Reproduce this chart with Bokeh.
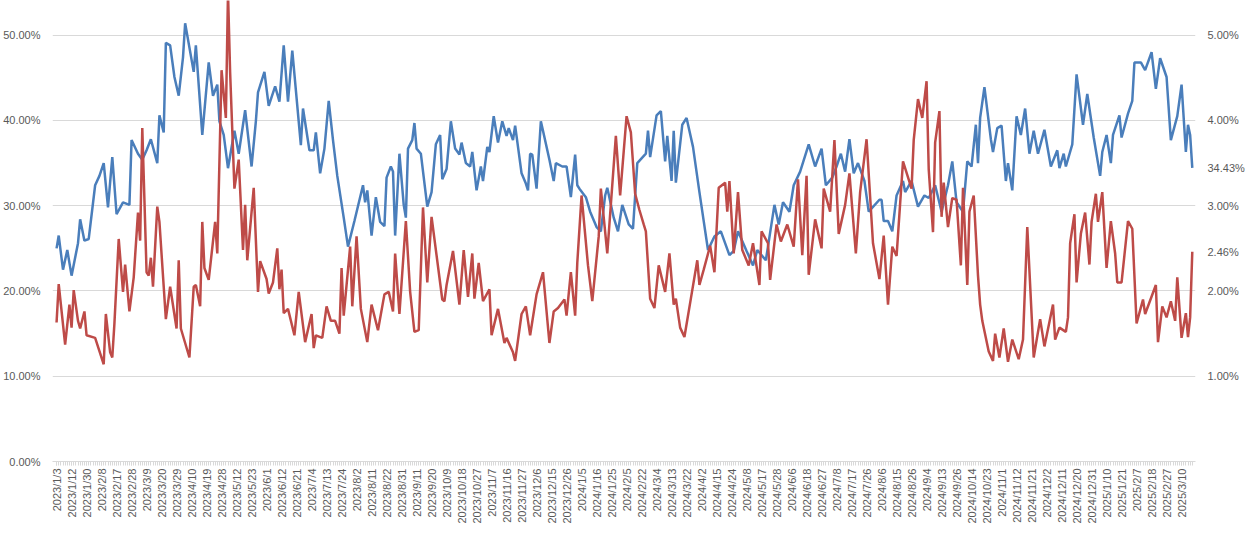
import datetime as dt
from bokeh.plotting import figure
from bokeh.models import Range1d, LinearAxis, FixedTicker, NumeralTickFormatter, ColumnDataSource
from bokeh.embed import file_html
from bokeh.resources import INLINE

# Shanghai/Shenzhen weekday closures in the period
holidays = ["2023-01-02", "2023-01-23", "2023-01-24", "2023-01-25", "2023-01-26", "2023-01-27",
            "2023-04-05", "2023-05-01", "2023-05-02", "2023-05-03", "2023-06-22", "2023-06-23",
            "2023-09-29", "2023-10-02", "2023-10-03", "2023-10-04", "2023-10-05", "2023-10-06",
            "2024-01-01", "2024-02-09", "2024-02-12", "2024-02-13", "2024-02-14", "2024-02-15",
            "2024-02-16", "2024-04-04", "2024-04-05", "2024-05-01", "2024-05-02", "2024-05-03",
            "2024-06-10", "2024-09-16", "2024-09-17", "2024-10-01", "2024-10-02", "2024-10-03",
            "2024-10-04", "2024-10-07", "2025-01-01", "2025-01-28", "2025-01-29", "2025-01-30",
            "2025-01-31", "2025-02-03", "2025-02-04"]
first_day = "2023-01-03"
n_days = 531

# sample day index (trading day number) and values
blue_day = [0, 1, 3, 5, 7, 10, 11, 13, 15, 18, 20, 22, 24, 26, 28, 31, 34, 35, 38, 40, 42, 44, 47, 48, 50, 51,
            53, 55, 57, 59, 60, 64, 65, 68, 71, 73, 75, 76, 78, 80, 83, 85, 88, 91, 93, 94, 97, 99, 102, 104,
            106, 108, 110, 114, 115, 118, 120, 121, 123, 125, 127, 129, 131, 134,
            136, 139, 143, 144, 145, 147, 149, 151, 153, 154, 156, 157, 158, 160, 162, 163, 164, 166, 167, 168,
            170, 173, 175, 177, 179, 180, 182, 184, 186, 188, 189, 191, 193, 194, 196, 198, 199, 201, 202, 204,
            206, 208, 210, 211, 213, 214, 217, 219, 220, 221, 222, 224, 226, 227, 230, 232, 233, 236, 238, 240,
            242, 243, 244, 247, 249, 252, 254, 256, 257, 260, 262, 264, 267, 269,
            271, 275, 276, 277, 280, 282, 284, 285, 287, 288, 289, 292, 294, 297, 300, 302, 304, 307, 310, 314,
            316, 318, 322, 325, 327, 331, 335, 337, 339, 342, 344, 347, 351, 354, 357, 359, 362, 364, 366, 368,
            370, 372, 374, 377, 379, 384, 385, 386, 388, 390, 392, 395, 396, 399, 402,
            405, 407, 410, 413, 416, 418, 420, 423, 425, 427, 429, 430, 431, 433, 436, 437, 439, 441, 443, 444,
            446, 448, 450, 452, 454, 456, 458, 461, 464, 467, 468, 470, 471, 474, 476, 479, 481, 484, 487, 488,
            490, 492, 493, 496, 497, 500, 502, 503, 506, 508, 511, 513, 515, 518, 520, 523, 525, 527, 528, 529, 530]
blue_pct = [25.0, 26.5, 22.5, 24.8, 21.8, 25.6, 28.4, 25.9, 26.1, 32.4, 33.5, 35.0, 29.8, 35.7, 29.0, 30.4, 30.1,
            37.7, 36.1, 35.4, 36.5, 37.8, 35.0, 40.6, 38.6, 49.1, 48.8, 45.1, 42.9, 47.4, 51.4, 45.7, 48.8, 38.3,
            46.8, 42.9, 44.2, 39.9, 38.3, 34.4, 38.8, 36.1, 41.2, 34.6, 39.9, 43.3, 45.7, 41.7, 44.0, 42.2, 48.8,
            42.2, 48.2, 37.1, 41.4, 36.5, 36.5, 38.6, 33.8, 36.7, 42.3, 37.7, 33.5, 28.6,
            25.2, 28.2, 32.4, 30.4, 31.8, 26.5, 31.0, 28.1, 27.6, 33.3, 34.6, 34.0, 26.5, 36.1, 30.1, 28.6, 36.7,
            37.7, 39.7, 36.7, 36.1, 29.9, 31.6, 37.2, 38.3, 33.1, 34.3, 39.9, 36.7, 36.0, 37.4, 35.0, 34.6, 36.3,
            31.8, 34.6, 32.9, 36.9, 36.3, 40.5, 37.4, 39.9, 38.2, 39.1, 37.7, 39.4, 33.8, 32.6, 31.8, 36.1, 36.0,
            32.0, 39.9, 38.8, 35.4, 32.9, 35.0, 34.6, 34.6, 31.0, 36.0, 32.4, 32.0, 31.0, 29.3, 27.5, 27.0, 31.2,
            32.1, 28.6, 27.0, 30.1, 27.8, 27.3,
            35.0, 36.1, 38.8, 35.7, 40.6, 41.1, 35.2, 38.2, 32.9, 38.8, 32.7, 39.5, 40.3, 36.9, 31.6, 28.2, 24.8,
            26.4, 27.0, 24.2, 24.7, 27.0, 24.7, 23.0, 24.8, 23.6, 30.1, 27.8, 30.4, 29.3, 32.4, 34.0, 37.2, 34.6,
            36.7, 32.4, 33.3, 34.6, 36.1, 34.0, 37.8, 33.8, 35.0, 32.9, 29.3, 30.7, 30.7, 28.2, 28.2, 27.0, 31.2,
            32.9, 31.6, 32.9, 29.9,
            31.2, 30.9, 32.4, 29.3, 32.4, 35.2, 30.4, 29.3, 35.2, 34.6, 39.5, 35.0, 40.3, 43.9, 37.8, 36.3, 39.1,
            39.4, 32.9, 35.0, 31.8, 40.5, 38.3, 41.4, 36.1, 38.8, 36.1, 38.9, 34.6, 36.5, 34.4, 36.1, 34.6, 37.2,
            45.4, 39.5, 43.1, 38.0, 33.5, 36.3, 38.3, 35.0, 38.3, 40.6, 38.0, 40.8, 42.3, 46.8, 46.8, 45.9, 48.0,
            43.7, 47.3, 45.1, 37.7, 40.5, 44.2, 36.3, 39.5, 38.3, 34.43]

red_day = [0, 1, 4, 6, 7, 8, 10, 11, 13, 14, 18, 22, 23, 25, 26, 27, 29, 31, 32, 34, 36, 38, 39, 40, 42, 43, 44,
           45, 47, 48, 51, 53, 56, 57, 58, 62, 64, 65, 67, 68, 69, 71, 74, 75, 77, 79, 80, 81, 83, 85, 87, 88, 89,
           92, 94, 95, 98, 99, 101, 103, 104, 105, 106, 108, 111, 113, 116, 119, 120, 121, 124, 126, 128, 130,
           132, 133,
           134, 137, 138, 140, 142, 145, 147, 150, 153, 155, 157, 158, 160, 163, 165, 167, 169, 171, 173, 175,
           180, 181, 182, 185, 188, 190, 192, 194, 195, 197, 199, 202, 203, 206, 209, 210, 213, 214, 217, 219,
           221, 224, 227, 230, 232, 234, 237, 238, 240, 242, 243, 245, 248, 250, 253, 254, 257, 261, 263, 266, 268,
           270, 272, 274, 275, 277, 279, 281, 284, 286, 288, 289, 291, 293, 296, 299, 300, 302, 305, 307, 309,
           312, 313, 314, 316, 318, 320, 323, 325, 328, 329, 332, 333, 336, 338, 341, 344, 346, 348, 350, 351,
           354, 357, 358, 361, 363, 365, 368, 370, 373, 375, 378, 381, 384, 386, 388, 390, 392, 395, 399,
           400, 402, 404, 406, 407, 409, 410, 412, 413, 414, 416, 418, 420, 422, 423, 425, 426, 428, 430, 431,
           432, 435, 437, 438, 440, 442, 444, 446, 449, 451, 453, 456, 459, 461, 465, 466, 468, 471, 472, 473,
           475, 476, 478, 480, 482, 483, 485, 486, 488, 490, 492, 494, 495, 497, 500, 502, 504, 507, 508, 513,
           514, 516, 518, 520, 522, 523, 525, 527, 528, 529, 530]
red_pct = [1.63, 2.08, 1.37, 1.84, 1.57, 2.01, 1.65, 1.56, 1.76, 1.48, 1.45, 1.14, 1.73, 1.28, 1.22, 1.62, 2.61,
           1.99, 2.31, 1.76, 2.16, 2.92, 2.59, 3.91, 2.22, 2.18, 2.39, 2.05, 2.99, 2.81, 1.67, 2.05, 1.56, 2.36,
           1.56, 1.22, 2.05, 2.07, 1.82, 2.81, 2.27, 2.13, 2.81, 2.44, 4.59, 4.03, 5.5, 4.56, 3.20, 3.54, 2.48,
           3.01, 2.36, 3.21, 1.99, 2.35, 2.14, 1.97, 2.10, 2.50, 2.02, 2.25, 1.74, 1.79, 1.48, 1.99, 1.40, 1.73,
           1.33, 1.48, 1.45, 1.82, 1.65, 1.65, 1.50, 2.27,
           1.71, 2.52, 1.82, 2.64, 1.79, 1.40, 1.84, 1.54, 1.96, 1.99, 1.76, 2.44, 1.73, 2.82, 1.99, 1.52, 1.54,
           2.98, 2.10, 2.87, 1.90, 1.88, 2.07, 2.47, 1.84, 2.48, 1.93, 2.44, 1.91, 2.33, 1.88, 2.02, 1.48, 1.79,
           1.39, 1.45, 1.28, 1.18, 1.73, 1.82, 1.48, 1.96, 2.22, 1.39, 1.76, 1.80, 1.90, 1.71, 2.22, 1.71, 2.33,
           3.12, 2.30, 1.88, 2.64, 3.20, 2.44, 3.82, 3.12, 4.05, 3.86,
           3.14, 2.95, 2.78, 2.70, 1.91, 1.80, 2.30, 1.99, 2.44, 1.84, 1.91, 1.57, 1.46, 1.91, 2.36, 2.07, 2.25,
           2.53, 2.22, 3.21, 3.27, 2.93, 3.29, 2.44, 3.16, 2.48, 2.30, 2.56, 2.07, 2.70, 2.56, 2.13, 2.78, 2.58,
           2.78, 2.52, 3.31, 2.42, 3.35, 2.19, 2.84, 2.50, 3.20, 2.93, 3.77, 2.67, 3.01, 3.38, 2.44, 3.16, 3.78,
           2.56, 2.14, 2.65, 1.84, 2.52, 2.41, 3.52, 3.20,
           3.77, 4.25, 4.03, 4.46, 3.43, 2.69, 3.74, 4.11, 2.87, 3.27, 2.75, 3.09, 3.07, 2.30, 3.21, 2.07, 2.93,
           3.12, 2.18, 1.84, 1.65, 1.29, 1.18, 1.50, 1.22, 1.56, 1.17, 1.43, 1.20, 1.43, 2.75, 1.22, 1.67, 1.35,
           1.84, 1.43, 1.57, 1.52, 1.69, 2.56, 2.90, 2.10, 2.67, 2.92, 2.31, 2.81, 3.14, 2.81, 3.16, 2.27, 2.82,
           2.44, 2.10, 2.10, 2.82, 2.73, 1.62, 1.90, 1.73, 2.07, 1.40, 1.82, 1.69, 1.88, 1.65, 2.16, 1.45, 1.74,
           1.46, 1.69, 2.46]

assert len(blue_day) == len(blue_pct), (len(blue_day), len(blue_pct))
assert len(red_day) == len(red_pct), (len(red_day), len(red_pct))

# trading calendar
closed = set(holidays)
days = []
d = dt.date.fromisoformat(first_day)
while len(days) < n_days:
    if d.weekday() < 5 and d.isoformat() not in closed:
        days.append(d)
    d += dt.timedelta(days=1)
tick_idx = list(range(0, n_days, 7))
tick_lab = {i: f"{days[i].year}/{days[i].month}/{days[i].day}" for i in tick_idx}

BLUE = "#4a7ebb"
RED = "#be4b48"
GREY = "#595959"
FONT = "Liberation Sans"

LEFT_MAX = 0.5407
RIGHT_MAX = 0.05407

p = figure(width=1247, height=526, output_backend="svg", toolbar_location=None,
           x_range=Range1d(-1.9, 531.5), y_range=Range1d(0, LEFT_MAX),
           min_border_left=47, min_border_right=40, min_border_top=0, min_border_bottom=48)
p.outline_line_color = None
p.extra_y_ranges = {"right": Range1d(0, RIGHT_MAX)}

p.xaxis.ticker = FixedTicker(ticks=tick_idx, minor_ticks=list(range(n_days)))
p.xaxis.major_label_overrides = tick_lab
p.xaxis.major_label_orientation = 1.5708
p.xaxis.axis_line_color = "#d9d9d9"
p.xaxis.major_tick_line_color = "#d9d9d9"
p.xaxis.minor_tick_line_color = "#d9d9d9"
p.xaxis.major_tick_out = 4
p.xaxis.minor_tick_out = 4
p.xaxis.major_tick_in = 0
p.xaxis.minor_tick_in = 0
p.xaxis.major_label_standoff = 3
p.xaxis.major_label_text_font_size = "11px"
p.xaxis.major_label_text_color = GREY
p.xaxis.major_label_text_font = FONT
p.xgrid.visible = False

p.yaxis.ticker = FixedTicker(ticks=[0, 0.1, 0.2, 0.3, 0.4, 0.5])
p.yaxis.formatter = NumeralTickFormatter(format="0.00%")
p.ygrid.ticker = FixedTicker(ticks=[0, 0.1, 0.2, 0.3, 0.4, 0.5])
p.ygrid.grid_line_color = "#d9d9d9"

# last values shown beside the right axis, as in the original
blue_last = blue_pct[-1] / 100 * RIGHT_MAX / LEFT_MAX
red_last = red_pct[-1] / 100
right = LinearAxis(y_range_name="right",
                   ticker=FixedTicker(ticks=[0.01, 0.02, 0.03, 0.04, 0.05, red_last, blue_last]),
                   formatter=NumeralTickFormatter(format="0.00%"))
right.major_label_overrides = {blue_last: f"{blue_pct[-1]:.2f}%", red_last: f"{red_pct[-1]:.2f}%"}
p.add_layout(right, "right")
for ax in (p.yaxis[0], right):
    ax.axis_line_color = None
    ax.major_tick_line_color = None
    ax.minor_tick_line_color = None
    ax.major_label_text_font_size = "11px"
    ax.major_label_text_color = GREY
    ax.major_label_text_font = FONT
    ax.major_label_standoff = 6

blue_src = ColumnDataSource(dict(x=blue_day, y=[v / 100 for v in blue_pct]))
red_src = ColumnDataSource(dict(x=red_day, y=[v / 100 for v in red_pct]))
p.line("x", "y", source=blue_src, line_color=BLUE, line_width=2.5)
p.line("x", "y", source=red_src, line_color=RED, line_width=2.5, y_range_name="right")

open("out.html", "w").write(file_html(p, INLINE))
